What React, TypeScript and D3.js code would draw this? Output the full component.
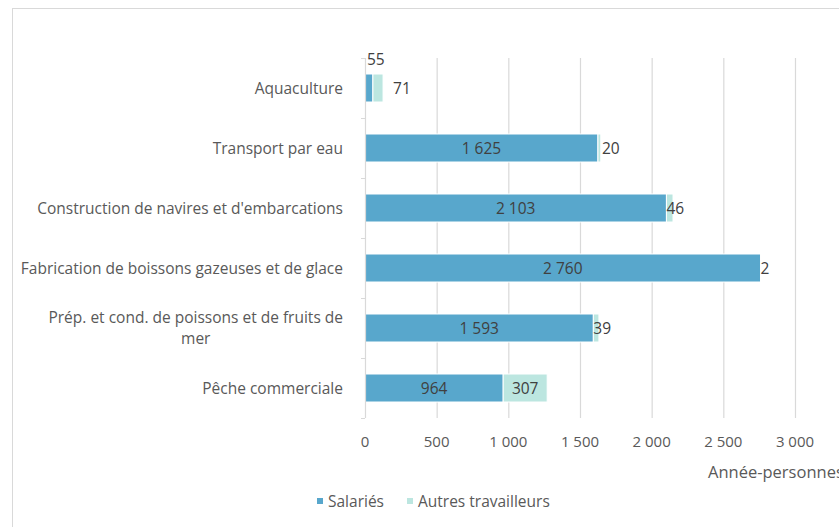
import { useEffect, useRef } from "react";
import * as d3 from "d3";

const WIDTH = 839;
const HEIGHT = 527;
const MARGIN = { top: 58, right: 44, bottom: 109, left: 365 };

// categories, top to bottom
const categories = [
  "Aquaculture",
  "Transport par eau",
  "Construction de navires et d'embarcations",
  "Fabrication de boissons gazeuses et de glace",
  "Prép. et cond. de poissons et de fruits de mer",
  "Pêche commerciale",
];
const salaries = [55, 1625, 2103, 2760, 1593, 964];
const autres = [71, 20, 46, 2, 39, 307];
// where the "Autres" label sits: past the bar, right after Salariés, or inside it
const autresLabelPos = ["outside-far", "outside", "outside", "outside", "outside", "inside"];
const xTicks = [0, 500, 1000, 1500, 2000, 2500, 3000];

const seriesNames = ["Salariés", "Autres travailleurs"];
const COLORS = ["#58A7CC", "#BCE6E0"];
const FONT = "'Open Sans', sans-serif";
const TEXT = "#595959";
const FS = 15.5;

const fr = d3.formatLocale({ decimal: ",", thousands: "\u00a0", grouping: [3], currency: ["", " $"] });
const fmt = fr.format(",d");

const App = () => {
  const ref = useRef<SVGSVGElement>(null);

  useEffect(() => {
    const svg = d3.select(ref.current);
    svg.selectAll("*").remove();

    const boundsHeight = HEIGHT - MARGIN.top - MARGIN.bottom;

    const x = d3.scaleLinear().domain([0, 3000]).range([0, 430]);
    const y = d3
      .scaleBand()
      .domain(categories)
      .range([0, boundsHeight])
      .paddingInner(32 / 60)
      .paddingOuter(16 / 60);

    // chart frame
    svg
      .append("rect")
      .attr("x", 12.5)
      .attr("y", 8.5)
      .attr("width", WIDTH)
      .attr("height", HEIGHT)
      .attr("fill", "white")
      .attr("stroke", "#D9D9D9");

    const g = svg.append("g").attr("transform", `translate(${MARGIN.left},${MARGIN.top})`);

    // vertical gridlines
    g.selectAll(".grid")
      .data(xTicks.slice(1))
      .enter()
      .append("line")
      .attr("x1", (d) => x(d) + 0.5)
      .attr("x2", (d) => x(d) + 0.5)
      .attr("y1", 0)
      .attr("y2", boundsHeight)
      .attr("stroke", "#D9D9D9")
      .attr("stroke-width", 1.2);

    // x tick labels
    g.selectAll(".xtick")
      .data(xTicks)
      .enter()
      .append("text")
      .attr("x", (d) => x(d))
      .attr("y", boundsHeight + 29)
      .attr("text-anchor", "middle")
      .attr("font-family", FONT)
      .attr("font-size", 15)
      .attr("fill", TEXT)
      .text((d) => fmt(d));

    const rows = categories.map((c, i) => ({ c, s: salaries[i], a: autres[i], pos: autresLabelPos[i] }));

    // bars
    g.selectAll(".sal")
      .data(rows)
      .enter()
      .append("rect")
      .attr("x", x(0))
      .attr("y", (d) => y(d.c)!)
      .attr("width", (d) => x(d.s) - x(0))
      .attr("height", y.bandwidth())
      .attr("fill", COLORS[0])
      .attr("stroke", "white")
      .attr("stroke-width", 1);

    g.selectAll(".aut")
      .data(rows)
      .enter()
      .append("rect")
      .attr("x", (d) => x(d.s))
      .attr("y", (d) => y(d.c)!)
      .attr("width", (d) => x(d.s + d.a) - x(d.s))
      .attr("height", y.bandwidth())
      .attr("fill", COLORS[1])
      .attr("stroke", "white")
      .attr("stroke-width", 1);

    // category axis line with outer ticks at band edges
    g.append("line")
      .attr("x1", 0.5)
      .attr("x2", 0.5)
      .attr("y1", 0)
      .attr("y2", boundsHeight)
      .attr("stroke", "#D9D9D9")
      .attr("stroke-width", 1.2);
    g.selectAll(".ytick")
      .data(d3.range(categories.length + 1))
      .enter()
      .append("line")
      .attr("x1", -4)
      .attr("x2", 0)
      .attr("y1", (i) => i * y.step() + 0.5)
      .attr("y2", (i) => i * y.step() + 0.5)
      .attr("stroke", "#D9D9D9");

    // category labels, wrapped where needed
    const wrap: Record<string, string[]> = {
      "Prép. et cond. de poissons et de fruits de mer": ["Prép. et cond. de poissons et de fruits de", "mer"],
    };
    rows.forEach((d) => {
      const cy = y(d.c)! + y.bandwidth() / 2;
      const lines = wrap[d.c] || [d.c];
      const t = g
        .append("text")
        .attr("font-family", FONT)
        .attr("font-size", FS)
        .attr("fill", TEXT)
        .attr("text-anchor", lines.length > 1 ? "middle" : "end");
      if (lines.length > 1) {
        const w = (t.append("tspan").text(lines[0]).node() as SVGTSpanElement).getComputedTextLength();
        t.selectAll("*").remove();
        lines.forEach((l, k) => {
          t.append("tspan")
            .attr("x", -22 - w / 2)
            .attr("y", cy + (k - (lines.length - 1) / 2) * 21 + 5.5)
            .text(l);
        });
      } else {
        t.attr("x", -22).attr("y", cy + 5.5).text(lines[0]);
      }
    });

    // value labels for Salariés (centered in bar)
    g.selectAll(".slab")
      .data(rows.filter((d) => x(d.s) > 40))
      .enter()
      .append("text")
      .attr("x", (d) => x(d.s / 2))
      .attr("y", (d) => y(d.c)! + y.bandwidth() / 2 + 5.5)
      .attr("text-anchor", "middle")
      .attr("font-family", FONT)
      .attr("font-size", FS)
      .attr("fill", "#404040")
      .text((d) => fmt(d.s));

    // small Salariés value shown above the bar
    rows
      .filter((d) => x(d.s) <= 40)
      .forEach((d) => {
        g.append("text")
          .attr("x", x(d.s) - 6)
          .attr("y", y(d.c)! - 9)
          .attr("font-family", FONT)
          .attr("font-size", FS)
          .attr("fill", "#404040")
          .text(fmt(d.s));
      });

    // value labels for Autres travailleurs
    rows.forEach((d) => {
      const cy = y(d.c)! + y.bandwidth() / 2 + 5.5;
      const t = g
        .append("text")
        .attr("font-family", FONT)
        .attr("font-size", FS)
        .attr("fill", "#404040")
        .attr("y", cy)
        .text(fmt(d.a));
      if (d.pos === "inside") t.attr("x", x(d.s + d.a / 2)).attr("text-anchor", "middle");
      else if (d.pos === "outside-far") t.attr("x", x(d.s + d.a) + 10);
      else t.attr("x", x(d.s) + (d.a > 15 && d.a < 30 ? 4 : 0));
    });

    // axis title (runs past the right edge, as in the original)
    g.append("text")
      .attr("x", 343)
      .attr("y", boundsHeight + 60)
      .attr("font-family", FONT)
      .attr("font-size", 16.5)
      .attr("fill", TEXT)
      .text("Année-personnes");

    // legend
    const legend = svg.append("g").attr("transform", `translate(317, 501)`);
    const offsets = [0, 90];
    seriesNames.forEach((name, i) => {
      legend
        .append("rect")
        .attr("x", offsets[i])
        .attr("y", -3)
        .attr("width", 6)
        .attr("height", 6)
        .attr("fill", COLORS[i]);
      legend
        .append("text")
        .attr("x", offsets[i] + 11)
        .attr("y", 5.5)
        .attr("font-family", FONT)
        .attr("font-size", FS)
        .attr("fill", TEXT)
        .text(name);
    });
  }, []);

  return <svg ref={ref} width={WIDTH} height={HEIGHT} style={{ position: "absolute", left: 0, top: 0 }} />;
};

export default App;
